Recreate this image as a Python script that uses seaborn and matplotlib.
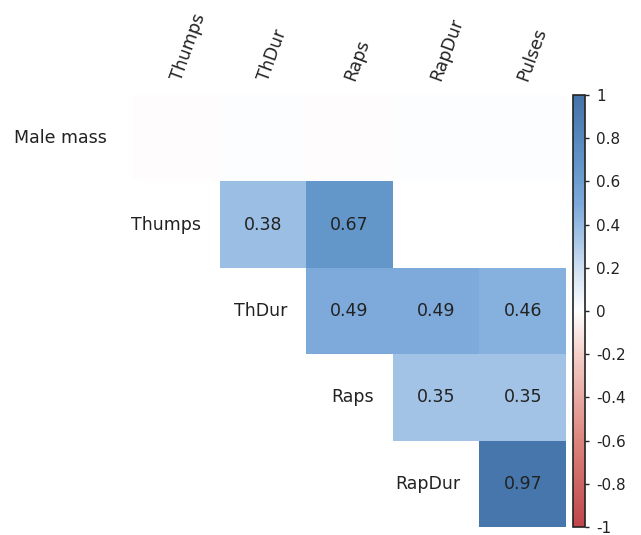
import matplotlib
matplotlib.use("Agg")
import matplotlib.pyplot as plt
import seaborn as sns
import pandas as pd
import numpy as np
from matplotlib.colors import LinearSegmentedColormap

# correlation matrix (upper triangle, blank = not shown)
row_names = ['Male mass', 'Thumps', 'ThDur', 'Raps', 'RapDur']
col_names = ['Thumps', 'ThDur', 'Raps', 'RapDur', 'Pulses']

male_mass = [-0.01, 0.01, -0.01, 0.01, 0.01]
thumps    = [np.nan, 0.38, 0.67, np.nan, np.nan]
thdur     = [np.nan, np.nan, 0.49, 0.49, 0.46]
raps      = [np.nan, np.nan, np.nan, 0.35, 0.35]
rapdur    = [np.nan, np.nan, np.nan, np.nan, 0.97]

cbar_ticks = [1, 0.8, 0.6, 0.4, 0.2, 0, -0.2, -0.4, -0.6, -0.8, -1]

df = pd.DataFrame([male_mass, thumps, thdur, raps, rapdur],
                  index=row_names, columns=col_names)

# numbers only for the significant cells (male mass row left blank)
annot = df.map(lambda v: '' if pd.isna(v) else '%.2f' % v)
annot.iloc[0, :] = ''
mask = df.isna()

cmap = LinearSegmentedColormap.from_list('corr', [
    (0.0, '#c0464b'), (0.2, '#dc857d'), (0.4, '#f4cfc9'), (0.5, '#ffffff'),
    (0.6, '#cfe0f2'), (0.675, '#a2c3e6'), (0.745, '#7eaadb'),
    (0.835, '#6497c9'), (1.0, '#4473a9')])

plt.rcParams['font.family'] = ['DejaVu Sans']
fig = plt.figure(figsize=(6.41, 5.35), dpi=100)
ax = fig.add_axes([133/641, 8/535, 433/641, 432/535])
cax = fig.add_axes([573/641, 8/535, 12/641, 432/535])

sns.heatmap(df, mask=mask, cmap=cmap, vmin=-1, vmax=1, annot=annot, fmt='',
            annot_kws={'size': 12.5, 'color': '#222222'},
            cbar_ax=cax, square=False, ax=ax,
            xticklabels=False, yticklabels=False)
ax.set_xlabel('')
ax.set_ylabel('')

# row labels sit next to the first cell of each row
for i, name in enumerate(row_names):
    off = 0.3 if i == 0 else 0.22
    ax.text(i - off, i + 0.5, name, ha='right', va='center',
            fontsize=12.5, color='#222222', clip_on=False)

# column labels on top, tilted
for j, name in enumerate(col_names):
    ax.text(j + 0.5, -0.17, name, ha='left', va='center', rotation=70,
            rotation_mode='anchor', fontsize=12.5, color='#222222', clip_on=False)

cb = ax.collections[0].colorbar
cb.set_ticks(cbar_ticks)
cb.set_ticklabels(['%g' % t for t in cbar_ticks])
cb.ax.tick_params(labelsize=11, length=3, width=1, pad=5, colors='#222222')
cb.outline.set_edgecolor('#222222')
cb.outline.set_linewidth(1.2)

fig.savefig('out.png', dpi=100)
